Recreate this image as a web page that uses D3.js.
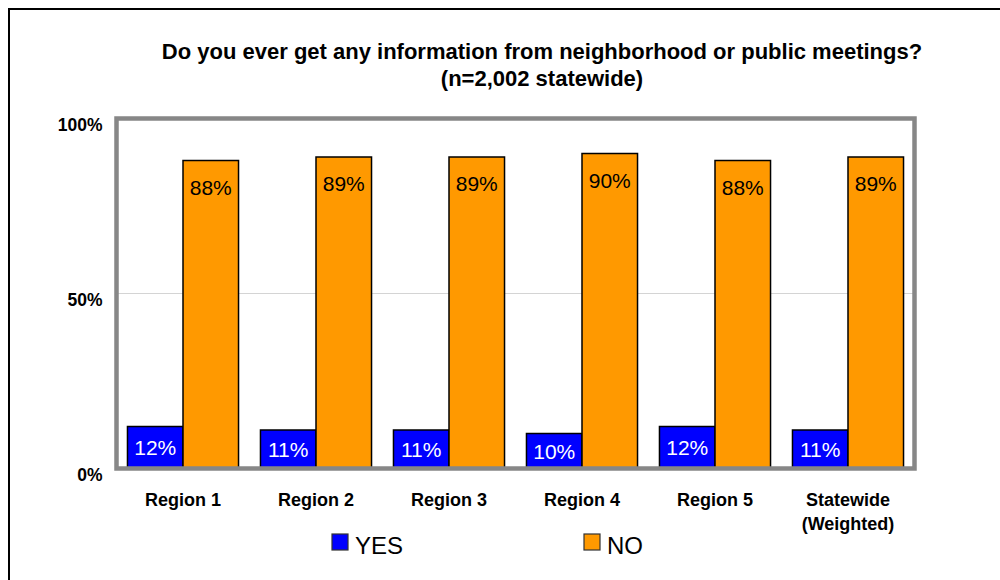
<!DOCTYPE html>
<html>
<head>
<meta charset="utf-8">
<script src="https://cdn.jsdelivr.net/npm/d3@7"></script>
<style>
  html, body { margin: 0; padding: 0; background: #fff; }
  svg { display: block; font-family: Arial, "Liberation Sans", sans-serif; }
</style>
</head>
<body>
<svg id="chart" width="1000" height="580"></svg>
<script>
// Survey responses by region
const categories = ["Region 1", "Region 2", "Region 3", "Region 4", "Region 5", "Statewide\n(Weighted)"];
const seriesNames = ["YES", "NO"];
const yesValues = [12, 11, 11, 10, 12, 11];
const noValues = [88, 89, 89, 90, 88, 89];
const yTicks = [0, 50, 100];
const seriesColors = ["#0000FF", "#FF9900"];
const titleLines = ["Do you ever get any information from neighborhood or public meetings?", "(n=2,002 statewide)"];

const svg = d3.select("#chart");

// outer frame (right and bottom edges run off the page)
svg.append("path")
  .attr("d", "M9,1010 V9 H1010")
  .attr("fill", "none")
  .attr("stroke", "#000")
  .attr("stroke-width", 2);

// title
svg.append("text")
  .attr("text-anchor", "middle")
  .attr("font-size", 22).attr("font-weight", "bold")
  .selectAll("tspan").data(titleLines).join("tspan")
  .attr("x", 542)
  .attr("y", (d, i) => 59 + i * 27)
  .text(d => d);

const plot = { left: 116.5, right: 914.5, top: 118.5, bottom: 468.5 };

const x = d3.scaleBand().domain(categories).range([plot.left, plot.right]).paddingInner(0).paddingOuter(0);
const y = d3.scaleLinear().domain([0, 100]).range([plot.bottom, plot.top]);
const groupWidth = x.bandwidth() * 0.835;
const xs = d3.scaleBand().domain(seriesNames).range([0, groupWidth]).padding(0);

// gridline at 50%
svg.append("g").selectAll("line").data(yTicks.filter(t => t > 0 && t < 100)).join("line")
  .attr("x1", plot.left).attr("x2", plot.right)
  .attr("y1", d => y(d)).attr("y2", d => y(d))
  .attr("stroke", "#d4d4d4").attr("stroke-width", 1.2);

// y axis labels
const yAxis = d3.axisLeft(y).tickValues(yTicks).tickFormat(d => d + "%").tickSize(0).tickPadding(0);
const yg = svg.append("g").attr("transform", `translate(${plot.left - 14},0)`).call(yAxis);
yg.select(".domain").remove();
yg.selectAll("text")
  .attr("font-size", 17.5).attr("font-weight", "bold").attr("fill", "#000")
  .attr("font-family", "Arial, 'Liberation Sans', sans-serif")
  .attr("dy", "0.72em").attr("y", -1);

// bars
const rows = categories.map((c, i) => ({ cat: c, values: [yesValues[i], noValues[i]] }));
const groups = svg.append("g").selectAll("g").data(rows).join("g")
  .attr("transform", d => `translate(${x(d.cat) + (x.bandwidth() - groupWidth) / 2},0)`);

groups.selectAll("rect").data(d => d.values.map((v, j) => ({ s: seriesNames[j], v, j }))).join("rect")
  .attr("x", d => xs(d.s))
  .attr("width", xs.bandwidth())
  .attr("y", d => y(d.v))
  .attr("height", d => y(0) - y(d.v))
  .attr("fill", d => seriesColors[d.j])
  .attr("stroke", "#000")
  .attr("stroke-width", 1.5);

// value labels
groups.selectAll("text.val").data(d => d.values.map((v, j) => ({ s: seriesNames[j], v, j }))).join("text")
  .attr("class", "val")
  .attr("x", d => xs(d.s) + xs.bandwidth() / 2)
  .attr("y", d => d.j === 0 ? (y(d.v) + y(0)) / 2 + 7.5 : y(d.v) + 34)
  .attr("text-anchor", "middle")
  .attr("font-size", 21)
  .attr("fill", d => d.j === 0 ? "#fff" : "#000")
  .text(d => d.v + "%");

// plot frame
svg.append("rect")
  .attr("x", plot.left).attr("y", plot.top)
  .attr("width", plot.right - plot.left).attr("height", plot.bottom - plot.top)
  .attr("fill", "none").attr("stroke", "#878787").attr("stroke-width", 4.5);

// category labels
const xAxis = svg.append("g");
xAxis.selectAll("text").data(categories).join("text")
  .attr("text-anchor", "middle")
  .attr("font-size", 18).attr("font-weight", "bold")
  .each(function (d) {
    d3.select(this).selectAll("tspan").data(d.split("\n")).join("tspan")
      .attr("x", x(d) + x.bandwidth() / 2)
      .attr("y", (t, i) => 506 + i * 24)
      .text(t => t);
  });

// legend
const legendX = [332, 584];
const legend = svg.append("g").selectAll("g").data(seriesNames).join("g")
  .attr("transform", (d, i) => `translate(${legendX[i]},534)`);
legend.append("rect")
  .attr("width", 16).attr("height", 16)
  .attr("fill", (d, i) => seriesColors[i])
  .attr("stroke", "#333").attr("stroke-width", 1.2);
legend.append("text")
  .attr("x", 23).attr("y", 20)
  .attr("font-size", 24)
  .text(d => d);
</script>
</body>
</html>
